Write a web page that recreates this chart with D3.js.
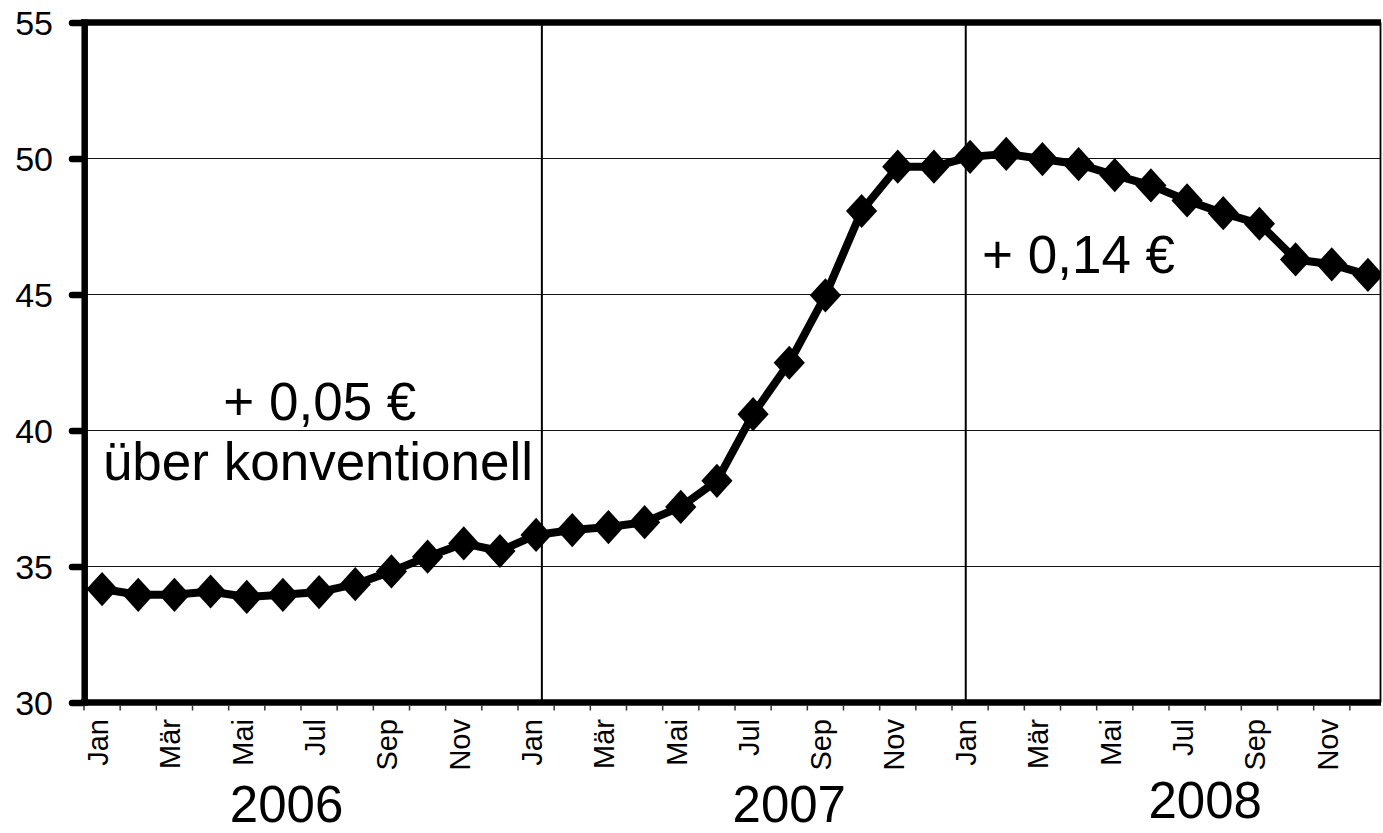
<!DOCTYPE html>
<html>
<head>
<meta charset="utf-8">
<script src="https://cdn.jsdelivr.net/npm/d3@7"></script>
<style>
  html, body { margin: 0; padding: 0; background: #fff; }
  svg { display: block; font-family: "Liberation Sans", Arial, Helvetica, sans-serif; }
</style>
</head>
<body>
<svg id="chart" width="1383" height="833"></svg>
<script>
// Monthly price, Jan 2006 – Dec 2008
const years = ["2006", "2007", "2008"];
const monthNames = ["Jan", "Feb", "Mär", "Apr", "Mai", "Jun", "Jul", "Aug", "Sep", "Okt", "Nov", "Dez"];
const prices = [
  34.17, 33.96, 33.96, 34.08, 33.88, 33.96, 34.06, 34.35, 34.82, 35.36, 35.85, 35.57,
  36.16, 36.34, 36.45, 36.63, 37.19, 38.15, 40.60, 42.49, 44.97, 48.07, 49.70, 49.70,
  50.06, 50.17, 49.98, 49.79, 49.39, 49.01, 48.46, 47.99, 47.60, 46.29, 46.11, 45.72
];
const yTicks = [30, 35, 40, 45, 50, 55];
const annotations = [
  { text: "+ 0,05 €", m: 6.52, v: 40.39 },
  { text: "über konventionell", m: 6.47, v: 38.18 },
  { text: "+ 0,14 €", m: 27.5, v: 45.79 }
];

const months = [];
years.forEach((yr, yi) => monthNames.forEach((mn, mi) => months.push({ key: yr + "-" + mn, name: mn, idx: yi * 12 + mi })));
const data = months.map((m, i) => ({ ...m, value: prices[i] }));

const svg = d3.select("#chart");
const plotLeft = 84, plotRight = 1386, clipRight = 1381;
const plotTop = 22.5, plotBottom = 702.5;

const x = d3.scaleBand().domain(months.map(d => d.key)).range([plotLeft, plotRight]).padding(0);
const mpos = d3.scaleLinear().domain([0, 36]).range([plotLeft, plotRight]);
const y = d3.scaleLinear().domain([30, 55]).range([plotBottom, plotTop]);
const bw = x.bandwidth();

svg.append("defs").append("clipPath").attr("id", "plotClip")
  .append("rect").attr("x", plotLeft).attr("y", 0).attr("width", clipRight - plotLeft).attr("height", 833);

// horizontal gridlines
svg.append("g").selectAll("line").data(yTicks.filter(t => t > 30 && t < 55)).join("line")
  .attr("x1", plotLeft).attr("x2", clipRight)
  .attr("y1", d => y(d)).attr("y2", d => y(d))
  .attr("stroke", "#111").attr("stroke-width", 1.2);

// year separators
svg.append("g").selectAll("line").data([12.66, 24.38]).join("line")
  .attr("x1", d => mpos(d)).attr("x2", d => mpos(d))
  .attr("y1", plotTop).attr("y2", plotBottom)
  .attr("stroke", "#000").attr("stroke-width", 2);

// right frame edge
svg.append("line").attr("x1", clipRight - 0.5).attr("x2", clipRight - 0.5)
  .attr("y1", plotTop).attr("y2", plotBottom).attr("stroke", "#000").attr("stroke-width", 1.8);

// series line and diamond markers
const plot = svg.append("g").attr("clip-path", "url(#plotClip)");
const line = d3.line().x(d => x(d.key) + bw / 2).y(d => y(d.value));
plot.append("path").datum(data).attr("d", line)
  .attr("fill", "none").attr("stroke", "#000").attr("stroke-width", 8).attr("stroke-linejoin", "round");
const diamond = d3.symbol().type(d3.symbolSquare).size(540);
plot.selectAll("path.pt").data(data).join("path").attr("class", "pt")
  .attr("d", diamond)
  .attr("transform", d => `translate(${x(d.key) + bw / 2},${y(d.value)}) scale(0.95,1.04) rotate(45)`)
  .attr("fill", "#000");

// top frame edge (thick)
svg.append("line").attr("x1", plotLeft - 3).attr("x2", clipRight)
  .attr("y1", plotTop).attr("y2", plotTop).attr("stroke", "#000").attr("stroke-width", 6.5);

// y axis
const yAxis = d3.axisLeft(y).tickValues(yTicks).tickSize(12).tickPadding(19).tickFormat(d3.format("d"));
const gy = svg.append("g").attr("transform", `translate(${plotLeft},0)`).call(yAxis);
gy.select(".domain").remove();
gy.selectAll(".tick line").attr("stroke", "#000").attr("stroke-width", 6.5).attr("stroke-linecap", "round");
gy.selectAll(".tick text").attr("font-size", 34).attr("fill", "#000")
  .attr("font-family", "'Liberation Sans', Arial, sans-serif").attr("dy", "0.35em");
svg.append("line").attr("x1", plotLeft + 0.7).attr("x2", plotLeft + 0.7)
  .attr("y1", plotTop - 3).attr("y2", plotBottom + 3).attr("stroke", "#000").attr("stroke-width", 6.5);

// x axis: baseline, category ticks, month labels
svg.append("line").attr("x1", plotLeft - 3).attr("x2", clipRight)
  .attr("y1", plotBottom).attr("y2", plotBottom).attr("stroke", "#000").attr("stroke-width", 6.5);
svg.append("g").selectAll("line").data(months).join("line")
  .attr("x1", d => x(d.key)).attr("x2", d => x(d.key))
  .attr("y1", plotBottom + 3).attr("y2", plotBottom + 8)
  .attr("stroke", "#333").attr("stroke-width", 1.5);
svg.append("g").selectAll("text").data(months.filter(d => d.idx % 2 === 0)).join("text")
  .attr("transform", d => `translate(${x(d.key) + bw / 2 + 6},719) rotate(-90)`)
  .attr("text-anchor", "end").attr("font-size", 29).attr("fill", "#000")
  .text(d => d.name);

// year labels
const yearPos = [5.6, 19.5, 31.0];
const yearBase = [822, 822, 818];
svg.append("g").selectAll("text").data(years).join("text")
  .attr("x", (d, i) => mpos(yearPos[i])).attr("y", (d, i) => yearBase[i])
  .attr("text-anchor", "middle").attr("font-size", 51).attr("fill", "#000")
  .text(d => d);

// annotations
svg.append("g").selectAll("text").data(annotations).join("text")
  .attr("x", d => mpos(d.m)).attr("y", d => y(d.v))
  .attr("text-anchor", "middle").attr("font-size", 53).attr("fill", "#000")
  .text(d => d.text);
</script>
</body>
</html>
